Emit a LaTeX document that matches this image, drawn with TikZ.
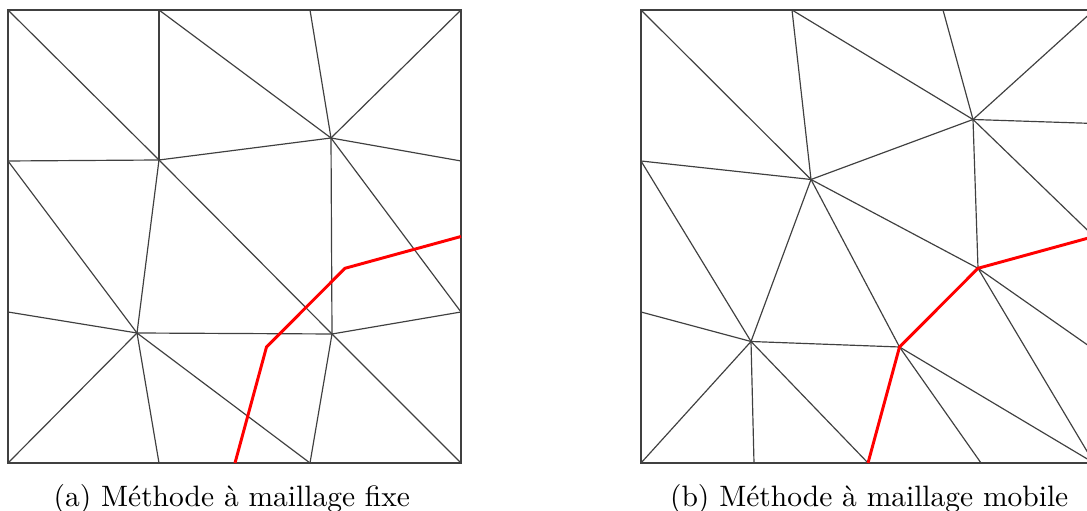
\documentclass[tikz,border=0pt]{standalone}
\begin{document}
\begin{tikzpicture}[x=0.339pt,y=-0.339pt,
  mesh/.style={draw=black!75,line width=0.4pt},
  iface/.style={draw=red,line width=1pt,line join=miter},
  caption/.style={anchor=base west,inner sep=0pt,font=\normalsize}]
\useasboundingbox (0,0) rectangle (1087,511);
\clip (0,0) rectangle (1087,511);
% ---------- left mesh (fixed) ----------
\coordinate (aTL) at (8,10);   \coordinate (aT1) at (159,10);
\coordinate (aT2) at (310,10); \coordinate (aTR) at (461,10);
\coordinate (aL1) at (8,161);  \coordinate (aL2) at (8,312);
\coordinate (aBL) at (8,463);  \coordinate (aBR) at (461,463);
\coordinate (aR1) at (461,161);\coordinate (aR2) at (461,312);
\coordinate (aRr) at (461,236.5);
\coordinate (aB1) at (159,463);\coordinate (aB2) at (310,463);
\coordinate (aBr) at (235,463);
\coordinate (aA) at (331,138); \coordinate (aB) at (159,160);
\coordinate (aC) at (137,333); \coordinate (aD) at (332,334);
\coordinate (aX1) at (266.5,347); \coordinate (aX2) at (345,268.3);
\draw[mesh] (aTL) rectangle (aBR);
\draw[mesh] (aTL) -- (aB) -- (aD) -- (aBR);
\draw[mesh] (aT1) -- (aB);
\draw[mesh] (aT1) -- (aA);
\draw[mesh] (aT2) -- (aA);
\draw[mesh] (aTR) -- (aA);
\draw[mesh] (aB) -- (aA);
\draw[mesh] (aA) -- (aR1);
\draw[mesh] (aA) -- (aR2);
\draw[mesh] (aA) -- (aD);
\draw[mesh] (aL1) -- (aB);
\draw[mesh] (aL1) -- (aC);
\draw[mesh] (aB) -- (aC);
\draw[mesh] (aL2) -- (aC);
\draw[mesh] (aC) -- (aD);
\draw[mesh] (aD) -- (aR2);
\draw[mesh] (aC) -- (aBL);
\draw[mesh] (aC) -- (aB1);
\draw[mesh] (aC) -- (aB2);
\draw[mesh] (aD) -- (aB2);
\draw[iface] (aBr) -- (aX1) -- (aX2) -- (aRr);
% ---------- right mesh (moving) ----------
\coordinate (bTL) at (641,10);  \coordinate (bT1) at (792,10);
\coordinate (bT2) at (943,10);  \coordinate (bTR) at (1094,10);
\coordinate (bL1) at (641,161); \coordinate (bL2) at (641,312);
\coordinate (bBL) at (641,463); \coordinate (bBR) at (1094,463);
\coordinate (bR1) at (1094,123.5); \coordinate (bR2) at (1094,236.5);
\coordinate (bR3) at (1094,349.5);
\coordinate (bB1) at (754,463); \coordinate (bB2) at (868,463);
\coordinate (bB3) at (981,463);
\coordinate (bP1) at (973,119.5); \coordinate (bP2) at (811,179.5);
\coordinate (bP3) at (978,268.3); \coordinate (bP4) at (751,341.5);
\coordinate (bP5) at (899.5,347);
\draw[mesh] (bTL) rectangle (bBR);
\draw[mesh] (bTL) -- (bP2);
\draw[mesh] (bT1) -- (bP2);
\draw[mesh] (bT1) -- (bP1);
\draw[mesh] (bT2) -- (bP1);
\draw[mesh] (bTR) -- (bP1);
\draw[mesh] (bP1) -- (bR1);
\draw[mesh] (bP1) -- (bR2);
\draw[mesh] (bP1) -- (bP2);
\draw[mesh] (bP1) -- (bP3);
\draw[mesh] (bL1) -- (bP2);
\draw[mesh] (bL1) -- (bP4);
\draw[mesh] (bP2) -- (bP4);
\draw[mesh] (bP2) -- (bP5);
\draw[mesh] (bP2) -- (bP3);
\draw[mesh] (bL2) -- (bP4);
\draw[mesh] (bP4) -- (bBL);
\draw[mesh] (bP4) -- (bB1);
\draw[mesh] (bP4) -- (bB2);
\draw[mesh] (bP4) -- (bP5);
\draw[mesh] (bP5) -- (bB3);
\draw[mesh] (bP5) -- (bBR);
\draw[mesh] (bP3) -- (bR3);
\draw[mesh] (bP3) -- (bBR);
\draw[iface] (bB2) -- (bP5) -- (bP3) -- (bR2);
% ---------- captions ----------
\node[caption] (capa) at (53,507) {(a) Méthode à maillage fixe};
\node[caption] (capb) at (669.5,507) {(b) Méthode à maillage mobile};
\end{tikzpicture}
\end{document}
